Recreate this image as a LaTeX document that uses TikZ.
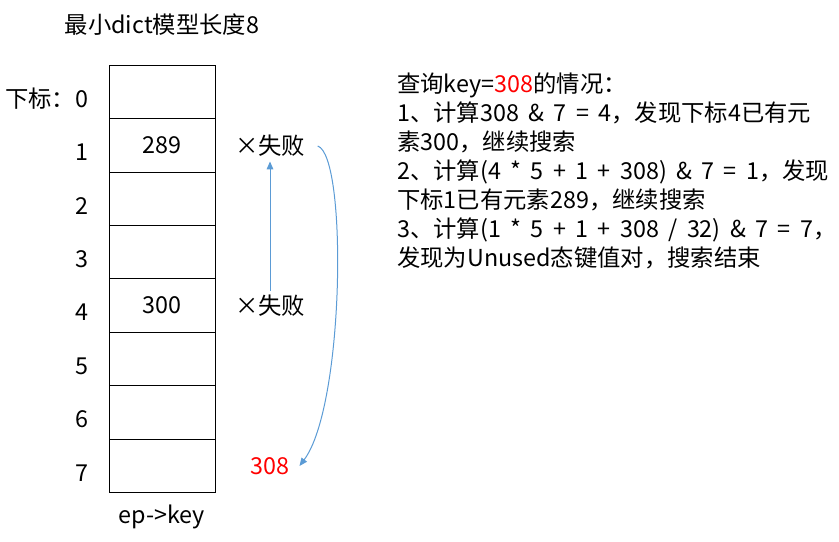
\documentclass[tikz,border=0pt]{standalone}
\usepackage{fontspec}
\setmainfont{Noto Sans CJK SC}[WordSpace=1.8]
\usepackage{tikz}
\usetikzlibrary{positioning,arrows.meta}
\definecolor{arrblue}{RGB}{91,155,213}
\tikzset{
cell/.style={draw, line width=0.75pt, minimum width=79.5pt, minimum height=40pt, inner sep=0pt}, % one slot of the table
idx/.style={anchor=east, inner sep=0pt}, % index numbers at the left
arr/.style={arrblue, line width=0.75pt, -{Triangle[length=6pt,width=5pt]}},
}

\begin{document}
\begin{tikzpicture}[x=0.75pt,y=-0.75pt,font=\fontsize{17.5pt}{21.75pt}\selectfont]
   \useasboundingbox (0,0) rectangle (839,542);
   \node (title) at (162,25) {最小dict模型长度8};
   \foreach \i in {0,...,7} {
      \node[cell] (c_\i) at (162,92+53.4*\i) {};
      \node[idx] (i_\i) at (89,99+53.4*\i) {\i};
   }
   \node[idx] at (i_0.west) {下标：};
   \node at (c_1) {289};
   \node at (c_4) {300};
   \node (epkey) at (162,517) {ep->key};
   \node (f_1) at (270,146) {×失败};
   \node (f_4) at (270,306) {×失败};
   \node (k) at (270,466) {\color{red}308};
   \draw[arr] (f_4.north) -- (f_1.south);
   \draw[arr] ([xshift=6pt]f_1.east) .. controls +(30,10) and +(45,-60) .. ([xshift=4pt]k.east);
   \node[anchor=north west, align=left, inner sep=0pt] (note) at (397,73) {查询key=\textcolor{red}{308}的情况：\\
1、计算308 \& 7 = 4，发现下标4已有元\\
素300，继续搜索\\
2、计算(4 * 5 + 1 + 308) \& 7 = 1，发现\\
下标1已有元素289，继续搜索\\
3、计算(1 * 5 + 1 + 308 / 32) \& 7 = 7，\\
发现为Unused态键值对，搜索结束};
\end{tikzpicture}
\end{document}
